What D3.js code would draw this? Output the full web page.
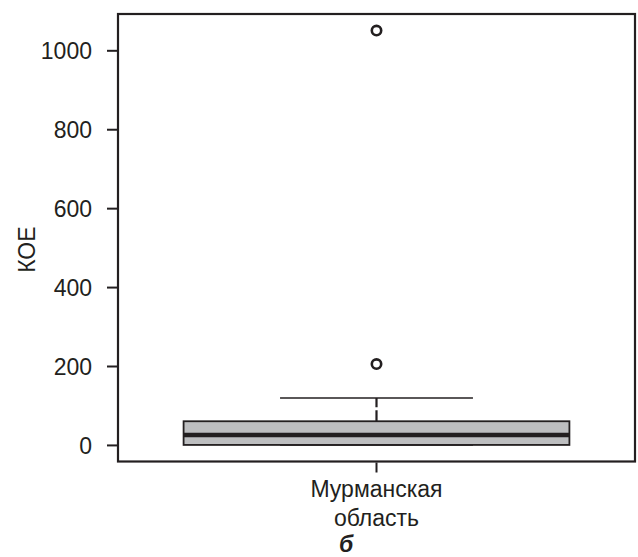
<!DOCTYPE html>
<html>
<head>
<meta charset="utf-8">
<script src="https://cdn.jsdelivr.net/npm/d3@7"></script>
<style>
  html, body { margin: 0; padding: 0; background: #fff; }
  svg { display: block; }
  text { font-family: "Liberation Sans", Arial, Helvetica, sans-serif; fill: #231f20; }
</style>
</head>
<body>
<svg id="chart" width="638" height="557"></svg>
<script>
// ---- data ----
const categories = ["Мурманская область"];
const categoryLines = [["Мурманская", "область"]];
const q1Values = [0];
const medianValues = [25];
const q3Values = [60];
const whiskerLow = [0];
const whiskerHigh = [119];
const outliers = [[205, 1050]];
const yTicks = [0, 200, 400, 600, 800, 1000];
const yLabel = "КОЕ";
const panelLabel = "б";

// ---- layout ----
const svg = d3.select("#chart");
const ink = "#231f20";
const frame = { left: 118, right: 635, top: 14, bottom: 461.5 };
const fs = "23px";

const y = d3.scaleLinear().domain([-42, 1092]).range([frame.bottom, frame.top]);
const x = d3.scaleBand().domain(categories).range([frame.left, frame.right]).paddingInner(0).paddingOuter(0.17);

// frame
svg.append("rect")
  .attr("x", frame.left).attr("y", frame.top)
  .attr("width", frame.right - frame.left).attr("height", frame.bottom - frame.top)
  .attr("fill", "none").attr("stroke", ink).attr("stroke-width", 2.2);

// y axis
const yAxis = d3.axisLeft(y).tickValues(yTicks).tickSize(10).tickPadding(15).tickFormat(d3.format("d"));
const gy = svg.append("g").attr("transform", `translate(${frame.left - 1},0)`).call(yAxis);
gy.select(".domain").remove();
gy.selectAll(".tick line").attr("stroke", ink).attr("stroke-width", 2);
gy.selectAll(".tick text").style("font-size", fs).attr("dy", "0.36em").attr("fill", ink);

// x axis
const xAxis = d3.axisBottom(x).tickSize(10).tickFormat(() => "");
const gx = svg.append("g").attr("transform", `translate(0,${frame.bottom + 1})`).call(xAxis);
gx.select(".domain").remove();
gx.selectAll(".tick line").attr("stroke", ink).attr("stroke-width", 2);
categories.forEach((c, i) => {
  const t = svg.append("text")
    .attr("x", x(c) + x.bandwidth() / 2)
    .attr("y", 497)
    .attr("text-anchor", "middle")
    .style("font-size", fs);
  categoryLines[i].forEach((line, j) => {
    t.append("tspan").attr("x", x(c) + x.bandwidth() / 2).attr("dy", j === 0 ? 0 : 28.5).text(line);
  });
});

// y label
svg.append("text")
  .attr("transform", `translate(35,${(y(1000) + y(0)) / 2 + 2}) rotate(-90)`)
  .attr("text-anchor", "middle")
  .style("font-size", fs)
  .text(yLabel);

// panel label
svg.append("text")
  .attr("x", 346).attr("y", 552)
  .attr("text-anchor", "middle")
  .style("font-size", fs).style("font-weight", "bold").style("font-style", "italic")
  .text(panelLabel);

// boxes
categories.forEach((c, i) => {
  const cx = x(c) + x.bandwidth() / 2;
  const bw = x.bandwidth();
  const g = svg.append("g");
  // whiskers (dashed)
  g.append("line").attr("x1", cx).attr("x2", cx)
    .attr("y1", y(q3Values[i])).attr("y2", y(whiskerHigh[i]))
    .attr("stroke", ink).attr("stroke-width", 2.2).attr("stroke-dasharray", "11,3");
  g.append("line").attr("x1", cx).attr("x2", cx)
    .attr("y1", y(q1Values[i])).attr("y2", y(whiskerLow[i]))
    .attr("stroke", ink).attr("stroke-width", 2.2).attr("stroke-dasharray", "11,3");
  // caps
  [whiskerHigh[i], whiskerLow[i]].forEach(v => {
    g.append("line").attr("x1", cx - bw / 4).attr("x2", cx + bw / 4)
      .attr("y1", y(v)).attr("y2", y(v))
      .attr("stroke", ink).attr("stroke-width", 1.6);
  });
  // box
  g.append("rect")
    .attr("x", cx - bw / 2).attr("width", bw)
    .attr("y", y(q3Values[i])).attr("height", y(q1Values[i]) - y(q3Values[i]))
    .attr("fill", "#bdbec0").attr("stroke", ink).attr("stroke-width", 1.8);
  // median
  g.append("line").attr("x1", cx - bw / 2).attr("x2", cx + bw / 2)
    .attr("y1", y(medianValues[i])).attr("y2", y(medianValues[i]))
    .attr("stroke", ink).attr("stroke-width", 4.5);
  // outliers
  outliers[i].forEach(v => {
    g.append("circle").attr("cx", cx).attr("cy", y(v)).attr("r", 4.7)
      .attr("fill", "none").attr("stroke", ink).attr("stroke-width", 2.6);
  });
});
</script>
</body>
</html>
